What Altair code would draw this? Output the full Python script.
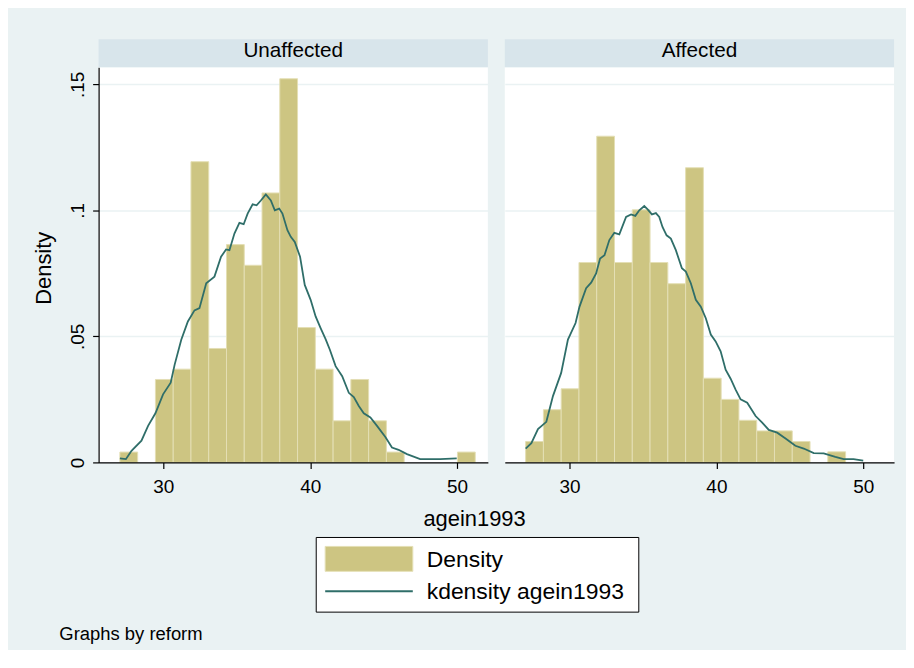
import altair as alt
import pandas as pd

# ---------------- data ----------------
panels = ["Unaffected", "Affected"]

# histogram: regular bins (start, width) and bar heights (density)
left_bin_start = 27.04
left_bin_width = 1.21
left_density = [0.0041, 0.0, 0.0329, 0.0370, 0.1193, 0.0452, 0.0864, 0.0782,
                0.1069, 0.1522, 0.0535, 0.0370, 0.0165, 0.0329, 0.0165, 0.0041,
                0.0, 0.0, 0.0, 0.0041]

right_bin_start = 27.01
right_bin_width = 1.2105
right_density = [0.0083, 0.0209, 0.0292, 0.0793, 0.1294, 0.0793, 0.1002, 0.0793,
                 0.0709, 0.1169, 0.0334, 0.0250, 0.0167, 0.0125, 0.0125, 0.0083,
                 0.0, 0.0042, 0.0]

# kernel density curves
left_kx = [27.04, 27.45, 27.83, 28.51, 28.96, 29.46, 29.98, 30.50, 30.77, 31.22,
           31.67, 32.12, 32.46, 32.92, 33.48, 33.93, 34.27, 34.50, 34.84, 35.18,
           35.47, 35.74, 36.08, 36.35, 36.64, 36.98, 37.32, 37.59, 37.89, 38.11,
           38.45, 38.68, 38.95, 39.31, 39.63, 40.03, 40.37, 40.71, 41.05, 41.34,
           41.73, 42.18, 42.63, 42.97, 43.31, 43.65, 44.10, 44.55, 45.12, 45.57,
           46.02, 46.59, 47.49, 48.85, 49.98]
left_ky = [0.0016, 0.0013, 0.0046, 0.0086, 0.0145, 0.0195, 0.0270, 0.0316, 0.0388, 0.0487,
           0.0559, 0.0603, 0.0612, 0.0711, 0.0737, 0.0816, 0.0845, 0.0842, 0.0908, 0.0950,
           0.0945, 0.0987, 0.1024, 0.1020, 0.1039, 0.1063, 0.1039, 0.1000, 0.1007, 0.0987,
           0.0921, 0.0895, 0.0875, 0.0816, 0.0704, 0.0645, 0.0579, 0.0533, 0.0489, 0.0447,
           0.0382, 0.0342, 0.0276, 0.0259, 0.0224, 0.0195, 0.0178, 0.0145, 0.0101, 0.0059,
           0.0050, 0.0033, 0.0013, 0.0013, 0.0016]

right_kx = [27.01, 27.40, 27.85, 28.42, 28.87, 29.43, 29.89, 30.41, 30.68, 31.13,
            31.47, 31.81, 32.08, 32.38, 32.71, 33.05, 33.39, 33.85, 34.19, 34.48,
            34.75, 35.09, 35.32, 35.61, 35.88, 36.11, 36.33, 36.61, 36.90, 37.24,
            37.65, 37.92, 38.26, 38.60, 38.94, 39.28, 39.62, 39.95, 40.29, 40.63,
            40.97, 41.31, 41.65, 42.10, 42.67, 43.12, 43.57, 44.14, 44.71, 45.38,
            45.95, 46.63, 47.31, 48.10, 48.67, 49.34, 50.00]
right_ky = [0.0055, 0.0076, 0.0132, 0.0161, 0.0263, 0.0355, 0.0487, 0.0553, 0.0618, 0.0691,
            0.0713, 0.0750, 0.0809, 0.0822, 0.0882, 0.0911, 0.0905, 0.0974, 0.0984, 0.0978,
            0.1000, 0.1017, 0.1004, 0.0984, 0.0989, 0.0974, 0.0934, 0.0901, 0.0888, 0.0842,
            0.0770, 0.0757, 0.0711, 0.0645, 0.0618, 0.0572, 0.0507, 0.0480, 0.0441, 0.0368,
            0.0332, 0.0289, 0.0250, 0.0237, 0.0184, 0.0158, 0.0129, 0.0118, 0.0095, 0.0066,
            0.0055, 0.0037, 0.0036, 0.0022, 0.0013, 0.0013, 0.0007]

x_ticks = [30, 40, 50]
y_ticks = [0, 0.05, 0.1, 0.15]
x_title = "agein1993"
y_title = "Density"
legend_labels = ["Density", "kdensity agein1993"]
note_text = "Graphs by reform"

# ---------------- styling ----------------
FONT = "Liberation Sans"
BG = "#EAF2F3"
STRIP = "#D8E5EB"
GRID = "#EAF2F3"
BAR_FILL = "#CDC582"
BAR_STROKE = "#E4DFB4"
LINE = "#2F6E69"
PW, PH = 391, 397
X_DOMAIN = [25.59, 52.1]
Y_DOMAIN = [0, 0.1568]


def panel(name, start, width, dens, kx, ky, show_y):
    rows = []
    for i, d in enumerate(dens):
        if d > 0:
            rows.append({"x0": start + i * width, "x1": start + (i + 1) * width, "d": d})
    bars_df = pd.DataFrame(rows)
    kd_df = pd.DataFrame({"kx": kx, "ky": ky})

    xs = alt.Scale(domain=X_DOMAIN, nice=False, zero=False)
    ys = alt.Scale(domain=Y_DOMAIN, nice=False)

    xaxis = alt.Axis(values=x_ticks, format="d", title=None, grid=False,
                     domainColor="black", domainWidth=1.2, tickColor="black",
                     tickSize=6, tickWidth=1.2, labelFontSize=19, labelFont=FONT,
                     labelColor="black", labelBaseline="top", labelPadding=9.5,
                     labelFlush=False, zindex=1)
    if show_y:
        yaxis = alt.Axis(values=y_ticks,
                         labelExpr="datum.value == 0 ? '0' : substring(format(datum.value, '.2~f'), 1)",
                         title=y_title, grid=True, gridColor=GRID, gridWidth=1.5,
                         domainColor="black", domainWidth=1.2, tickColor="black",
                         tickSize=6, tickWidth=1.2, labelAngle=270, labelAlign="center",
                         labelBaseline="alphabetic", labelPadding=9, labelFontSize=19,
                         labelFont=FONT, labelColor="black", labelFlush=False,
                         titleFont=FONT, titleFontSize=22, titleFontWeight="normal",
                         titleColor="black", titleAngle=270, titleBaseline="alphabetic",
                         titleAlign="center", titleX=-48, titleY=201.5)
    else:
        yaxis = alt.Axis(values=y_ticks, labels=False, ticks=False, domain=False,
                         title=None, grid=True, gridColor=GRID, gridWidth=1.5)

    strip_df = pd.DataFrame({"label": [name]})
    strip = alt.Chart(strip_df).mark_rect(fill=STRIP).encode(
        x=alt.value(0), x2=alt.value(PW), y=alt.value(-28), y2=alt.value(0))
    strip_text = alt.Chart(strip_df).mark_text(
        font=FONT, fontSize=20.8, align="center", baseline="alphabetic", color="black"
    ).encode(x=alt.value(PW / 2), y=alt.value(-10), text="label:N")

    bars = alt.Chart(bars_df).mark_rect(fill=BAR_FILL, stroke=BAR_STROKE, strokeWidth=1).encode(
        x=alt.X("x0:Q", scale=xs, axis=xaxis),
        x2="x1:Q",
        y=alt.Y("d:Q", scale=ys, axis=yaxis),
        y2=alt.datum(0),
    )
    line = alt.Chart(kd_df).mark_line(color=LINE, strokeWidth=1.8).encode(
        x=alt.X("kx:Q", scale=xs),
        y=alt.Y("ky:Q", scale=ys),
    )
    return alt.layer(strip, bars, line, strip_text).properties(
        width=PW, height=PH,
        view=alt.ViewBackground(fill="white", stroke="transparent"))


left = panel(panels[0], left_bin_start, left_bin_width, left_density, left_kx, left_ky, True)
right = panel(panels[1], right_bin_start, right_bin_width, right_density, right_kx, right_ky, False)

# ---------------- bottom area: x title, legend, note ----------------
# (bottom group origin is aligned with the left plot's left edge)
title_df = pd.DataFrame({"t": [x_title]})
xt = alt.Chart(title_df).mark_text(font=FONT, fontSize=22, align="center",
                                   baseline="alphabetic", color="black").encode(
    x=alt.value(377.6), y=alt.value(28.4), text="t:N")

box = alt.Chart(pd.DataFrame({"k": [0]})).mark_rect(
    fill="white", stroke="black", strokeWidth=1).encode(
    x=alt.value(218.6), x2=alt.value(542.6), y=alt.value(40.4), y2=alt.value(115.4))

sym_bar = alt.Chart(pd.DataFrame({"k": [legend_labels[0]]})).mark_rect(
    fill=BAR_FILL, stroke=BAR_STROKE, strokeWidth=1).encode(
    x=alt.value(227.6), x2=alt.value(315.6), y=alt.value(49.4), y2=alt.value(74.4))

sym_line = alt.Chart(pd.DataFrame({"k": [legend_labels[1]]})).mark_rule(
    color=LINE, strokeWidth=1.8).encode(
    x=alt.value(227.6), x2=alt.value(315.6), y=alt.value(94.4))

lab1 = alt.Chart(pd.DataFrame({"t": [legend_labels[0]]})).mark_text(
    font=FONT, fontSize=23, align="left", baseline="alphabetic", color="black").encode(
    x=alt.value(329.6), y=alt.value(70.4), text="t:N")
lab2 = alt.Chart(pd.DataFrame({"t": [legend_labels[1]]})).mark_text(
    font=FONT, fontSize=23, align="left", baseline="alphabetic", color="black").encode(
    x=alt.value(329.6), y=alt.value(102.4), text="t:N")

note = alt.Chart(pd.DataFrame({"t": [note_text]})).mark_text(
    font=FONT, fontSize=18.5, align="left", baseline="alphabetic", color="black").encode(
    x=alt.value(-39.4), y=alt.value(143.1), text="t:N")

bottom = alt.layer(xt, box, sym_bar, sym_line, lab1, lab2, note).properties(
    width=780, height=152,
    view=alt.ViewBackground(fill="transparent", stroke="transparent"))

chart = alt.vconcat(
    alt.hconcat(left, right, spacing=17),
    bottom,
    spacing=0,
).properties(
    background=BG,
    padding={"left": 25, "top": 30, "right": 12, "bottom": 0},
).configure_view(strokeWidth=0)

chart.save("out.html", embed_options={"renderer": "svg", "actions": False})
